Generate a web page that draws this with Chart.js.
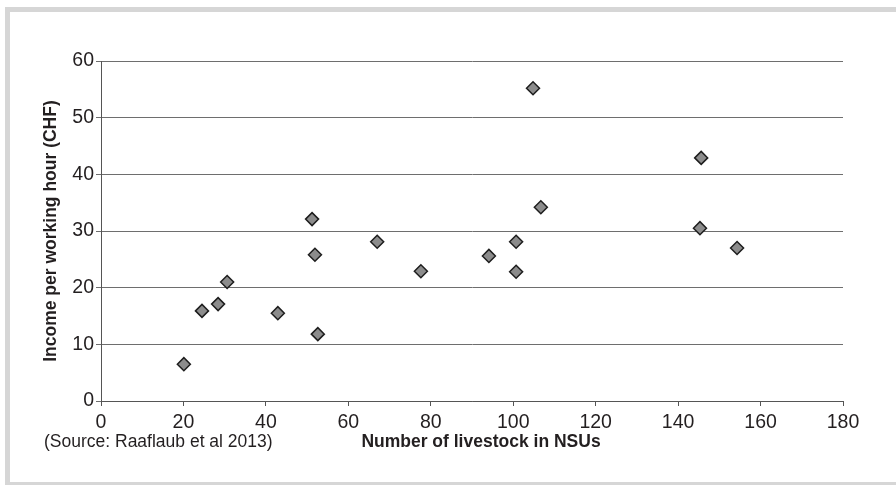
<!DOCTYPE html>
<html>
<head>
<meta charset="utf-8">
<script src="https://cdn.jsdelivr.net/npm/chart.js@4"></script>
<style>
  html, body { margin: 0; padding: 0; background: #fff; overflow: hidden; }
  #frame {
    position: absolute; left: 5px; top: 7px;
    width: 1000px; height: 470px;
    border-left: 5px solid #d6d6d6;
    border-top: 5px solid #d6d6d6;
    border-bottom: 5px solid #d6d6d6;
  }
  #wrap { position: absolute; left: 0; top: 0; width: 896px; height: 485px; }
</style>
</head>
<body>
<div id="frame"></div>
<div id="wrap"><canvas id="chart" width="896" height="485"></canvas></div>
<script>
// livestock (NSU) vs income per working hour (CHF)
const livestock = [20.1, 24.5, 28.4, 30.6, 42.9, 51.2, 51.9, 52.6, 67.0, 77.6, 94.1, 100.7, 100.7, 104.8, 106.7, 145.6, 145.3, 154.3];
const income    = [6.5, 15.9, 17.1, 21.0, 15.5, 32.1, 25.8, 11.8, 28.1, 22.9, 25.6, 28.1, 22.8, 55.2, 34.2, 42.9, 30.5, 27.0];
const xTicks = [0, 20, 40, 60, 80, 100, 120, 140, 160, 180];
const yTicks = [0, 10, 20, 30, 40, 50, 60];

const FONT = "'Liberation Sans', Arial, sans-serif";
const TEXT = '#231f20';

const points = livestock.map((x, i) => ({ x: x, y: income[i] }));

// extra texts under the plot
const bottomText = {
  id: 'bottomText',
  afterDraw(chart) {
    const ctx = chart.ctx;
    ctx.save();
    ctx.fillStyle = TEXT;
    ctx.textBaseline = 'middle';
    ctx.textAlign = 'left';
    ctx.font = '17.5px ' + FONT;
    ctx.fillText('(Source: Raaflaub et al 2013)', 44, 442);
    ctx.textAlign = 'center';
    ctx.font = 'bold 17.5px ' + FONT;
    ctx.fillText('Number of livestock in NSUs', 481, 442);
    ctx.restore();
  }
};

new Chart(document.getElementById('chart'), {
  type: 'scatter',
  data: {
    datasets: [{
      label: 'Farms',
      data: points,
      pointStyle: 'rectRot',
      pointRadius: 6.5,
      pointHoverRadius: 6.5,
      backgroundColor: '#8c8c8c',
      borderColor: '#1e1e1e',
      borderWidth: 1.5
    }]
  },
  options: {
    responsive: false,
    animation: false,
    layout: { padding: { left: 0, top: 61, right: 53, bottom: 0 } },
    plugins: {
      legend: { display: false },
      tooltip: { enabled: false }
    },
    scales: {
      x: {
        type: 'linear',
        min: 0, max: 180,
        afterFit: s => { s.height = 84; },
        afterBuildTicks: s => { s.ticks = xTicks.map(v => ({ value: v })); },
        grid: { drawOnChartArea: false, drawTicks: true, tickLength: 5, color: '#555', lineWidth: 1 },
        border: { color: '#555', width: 1 },
        ticks: { color: TEXT, font: { family: FONT, size: 19.5 }, padding: 5, maxRotation: 0 }
      },
      y: {
        min: 0, max: 60,
        afterFit: s => { s.width = 101; },
        afterBuildTicks: s => { s.ticks = yTicks.map(v => ({ value: v })); },
        grid: { color: '#6e6e6e', lineWidth: 1, tickLength: 5 },
        border: { color: '#555', width: 1 },
        ticks: { color: TEXT, font: { family: FONT, size: 19.5 }, padding: 2 },
        title: {
          display: true,
          text: 'Income per working hour (CHF)',
          color: TEXT,
          font: { family: FONT, size: 17.5, weight: 'bold' },
          padding: { top: 41, bottom: 0 }
        }
      }
    }
  },
  plugins: [bottomText]
});
</script>
</body>
</html>
